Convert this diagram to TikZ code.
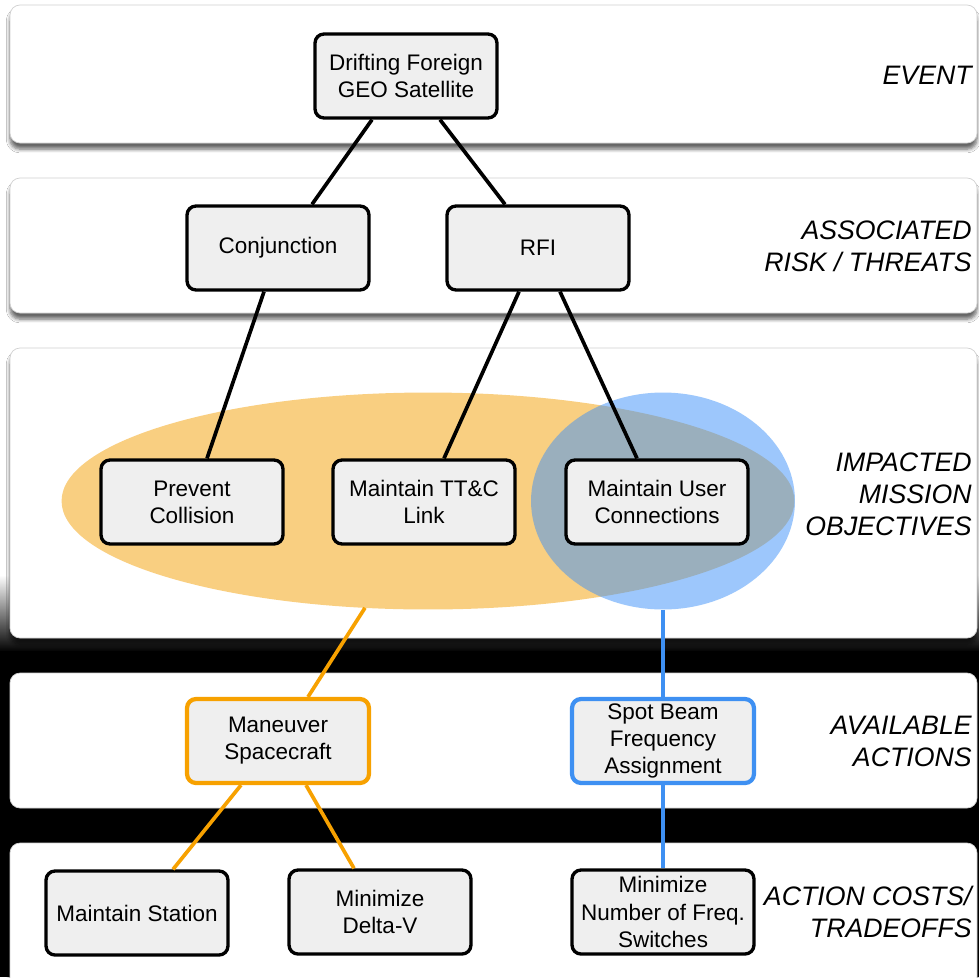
\documentclass[tikz,border=0pt]{standalone}
\usepackage{fontspec}
\setmainfont{Liberation Sans}
\usetikzlibrary{positioning, shapes.geometric, calc, shadows, shadows.blur}
\definecolor{boxgray}{HTML}{EFEFEF}
\definecolor{setorange}{HTML}{F5A005}
\definecolor{setblue}{HTML}{3C91FA}
\definecolor{lineorange}{HTML}{F7A100}
\definecolor{lineblue}{HTML}{3E90F2}

\begin{document}
\begin{tikzpicture}[
    x=0.02cm, y=-0.02cm,
    band/.style={draw=black!18, line width=0.4pt, fill=white, rounded corners=0.2cm,
        blur shadow={shadow xshift=0pt, shadow yshift=-3.5pt, shadow blur steps=6,
            shadow blur extra rounding=1pt, shadow opacity=60}},
    box/.style={draw, line width=1.9pt, fill=boxgray, rounded corners=0.18cm,
        minimum width=3.64cm, minimum height=1.68cm, inner sep=0pt, align=center,
        font=\fontsize{12.8}{15.4}\selectfont},
    tag/.style={anchor=east, align=right, inner sep=0pt,
        font=\fontsize{15.2}{18.2}\selectfont\itshape},
    link/.style={line width=2.1pt}
]
    \useasboundingbox (0,0) rectangle (979,977);
    % background
    \fill[white] (0,0) rectangle (979,575);
    \shade[top color=white, bottom color=black] (0,575) rectangle (979,652);
    \fill[black] (0,651) rectangle (979,977);

    % the five bands
    \draw[band] (10,5) rectangle (977,143);
    \draw[band] (10,178) rectangle (977,313);
    \draw[band] (10,348) rectangle (977,638);
    \draw[band] (10,673) rectangle (977,808);
    \draw[band] (10,843) rectangle (977,995);

    \node[tag] (lev) at (972,75) {EVENT};
    \node[tag] (lrisk) at (972,246) {ASSOCIATED\\RISK / THREATS};
    \node[tag] (lobj) at (972,494) {IMPACTED\\MISSION\\OBJECTIVES};
    \node[tag] (lact) at (972,741) {AVAILABLE\\ACTIONS};
    \node[tag] (lcost) at (972,912) {ACTION COSTS/\\TRADEOFFS};

    % objective sets
    \node[ellipse, fill=setorange, fill opacity=0.5, inner sep=0pt,
        minimum width=14.66cm, minimum height=4.34cm] (safety) at (428,501) {};
    \node[ellipse, fill=setblue, fill opacity=0.5, inner sep=0pt,
        minimum width=5.28cm, minimum height=4.34cm] (comms) at (663,501) {};

    % boxes
    \node[box] (drift) at (406,76) {Drifting Foreign\\GEO Satellite};
    \node[box] (conj) at (278,248) {Conjunction};
    \node[box] (rfi) at (538,248) {RFI};
    \node[box] (prevent) at (192,502) {Prevent\\Collision};
    \node[box] (ttc) at (424,502) {Maintain TT\&C\\Link};
    \node[box] (user) at (657,502) {Maintain User\\Connections};
    \node[box, draw=lineorange, line width=2.4pt] (maneuver) at (278,741) {Maneuver\\Spacecraft};
    \node[box, draw=lineblue, line width=2.4pt] (spot) at (663,741) {Spot Beam\\Frequency\\Assignment};
    \node[box] (station) at (137,913) {Maintain Station};
    \node[box] (deltav) at (380,912) {Minimize\\Delta-V};
    \node[box] (switches) at (663,912) {Minimize\\Number of Freq.\\Switches};

    % links
    \draw[link] ([shift={(-34,0)}]drift.south) -- ([shift={(34,0)}]conj.north);
    \draw[link] ([shift={(34,0)}]drift.south) -- ([shift={(-33,0)}]rfi.north);
    \draw[link] ([shift={(-14,0)}]conj.south) -- ([shift={(15,0)}]prevent.north);
    \draw[link] ([shift={(-19,0)}]rfi.south) -- ([shift={(20,0)}]ttc.north);
    \draw[link] ([shift={(22,0)}]rfi.south) -- ([shift={(-20,0)}]user.north);

    \draw[link, lineorange] ([shift={(-63,-2)}]safety.south) -- ([shift={(30,0)}]maneuver.north);
    \draw[link, lineorange] ([shift={(-37,0)}]maneuver.south) -- ([shift={(36,0)}]station.north);
    \draw[link, lineorange] ([shift={(28,0)}]maneuver.south) -- ([shift={(-26,0)}]deltav.north);
    \draw[link, lineblue] (comms.south) -- (spot.north);
    \draw[link, lineblue] (spot.south) -- (switches.north);
\end{tikzpicture}
\end{document}
